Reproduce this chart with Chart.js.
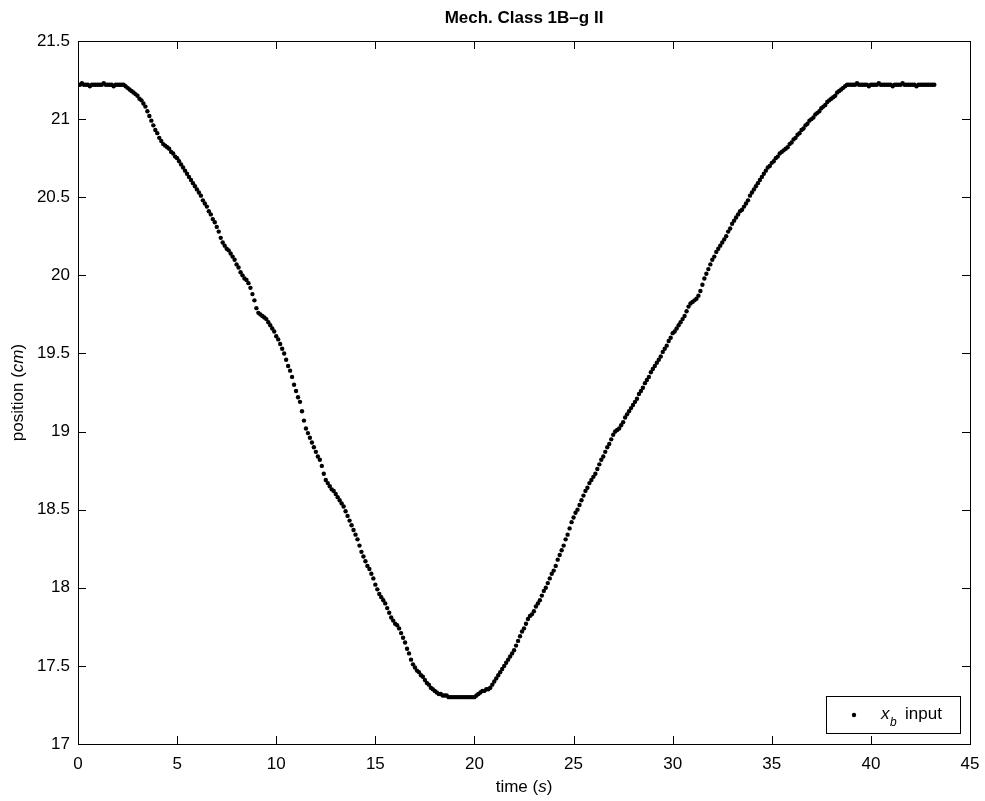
<!DOCTYPE html>
<html>
<head>
<meta charset="utf-8">
<script src="https://cdn.jsdelivr.net/npm/chart.js@4.4.1/dist/chart.umd.min.js"></script>
<style>
  body { margin: 0; background: #fff; }
</style>
</head>
<body>
<canvas id="myChart" width="985" height="801"></canvas>
<script>
const chartTitle = 'Mech. Class 1B\u2013g II';
const xTicks = [0, 5, 10, 15, 20, 25, 30, 35, 40, 45];
const yTicks = [17, 17.5, 18, 18.5, 19, 19.5, 20, 20.5, 21, 21.5];

// sample times (s)
const times = [
  0.0,0.1,0.2,0.3,0.4,0.5,0.6,0.7,0.8,0.9,
  1.0,1.1,1.2,1.3,1.4,1.5,1.6,1.7,1.8,1.9,
  2.0,2.1,2.2,2.3,2.4,2.5,2.6,2.7,2.8,2.9,
  3.0,3.1,3.2,3.3,3.4,3.5,3.6,3.7,3.8,3.9,
  4.0,4.1,4.2,4.3,4.4,4.5,4.6,4.7,4.8,4.9,
  5.0,5.1,5.2,5.3,5.4,5.5,5.6,5.7,5.8,5.9,
  6.0,6.1,6.2,6.3,6.4,6.5,6.6,6.7,6.8,6.9,
  7.0,7.1,7.2,7.3,7.4,7.5,7.6,7.7,7.8,7.9,
  8.0,8.1,8.2,8.3,8.4,8.5,8.6,8.7,8.8,8.9,
  9.0,9.1,9.2,9.3,9.4,9.5,9.6,9.7,9.8,9.9,
  10.0,10.1,10.2,10.3,10.4,10.5,10.6,10.7,10.8,10.9,
  11.0,11.1,11.2,11.3,11.4,11.5,11.6,11.7,11.8,11.9,
  12.0,12.1,12.2,12.3,12.4,12.5,12.6,12.7,12.8,12.9,
  13.0,13.1,13.2,13.3,13.4,13.5,13.6,13.7,13.8,13.9,
  14.0,14.1,14.2,14.3,14.4,14.5,14.6,14.7,14.8,14.9,
  15.0,15.1,15.2,15.3,15.4,15.5,15.6,15.7,15.8,15.9,
  16.0,16.1,16.2,16.3,16.4,16.5,16.6,16.7,16.8,16.9,
  17.0,17.1,17.2,17.3,17.4,17.5,17.6,17.7,17.8,17.9,
  18.0,18.1,18.2,18.3,18.4,18.5,18.6,18.7,18.8,18.9,
  19.0,19.1,19.2,19.3,19.4,19.5,19.6,19.7,19.8,19.9,
  20.0,20.1,20.2,20.3,20.4,20.5,20.6,20.7,20.8,20.9,
  21.0,21.1,21.2,21.3,21.4,21.5,21.6,21.7,21.8,21.9,
  22.0,22.1,22.2,22.3,22.4,22.5,22.6,22.7,22.8,22.9,
  23.0,23.1,23.2,23.3,23.4,23.5,23.6,23.7,23.8,23.9,
  24.0,24.1,24.2,24.3,24.4,24.5,24.6,24.7,24.8,24.9,
  25.0,25.1,25.2,25.3,25.4,25.5,25.6,25.7,25.8,25.9,
  26.0,26.1,26.2,26.3,26.4,26.5,26.6,26.7,26.8,26.9,
  27.0,27.1,27.2,27.3,27.4,27.5,27.6,27.7,27.8,27.9,
  28.0,28.1,28.2,28.3,28.4,28.5,28.6,28.7,28.8,28.9,
  29.0,29.1,29.2,29.3,29.4,29.5,29.6,29.7,29.8,29.9,
  30.0,30.1,30.2,30.3,30.4,30.5,30.6,30.7,30.8,30.9,
  31.0,31.1,31.2,31.3,31.4,31.5,31.6,31.7,31.8,31.9,
  32.0,32.1,32.2,32.3,32.4,32.5,32.6,32.7,32.8,32.9,
  33.0,33.1,33.2,33.3,33.4,33.5,33.6,33.7,33.8,33.9,
  34.0,34.1,34.2,34.3,34.4,34.5,34.6,34.7,34.8,34.9,
  35.0,35.1,35.2,35.3,35.4,35.5,35.6,35.7,35.8,35.9,
  36.0,36.1,36.2,36.3,36.4,36.5,36.6,36.7,36.8,36.9,
  37.0,37.1,37.2,37.3,37.4,37.5,37.6,37.7,37.8,37.9,
  38.0,38.1,38.2,38.3,38.4,38.5,38.6,38.7,38.8,38.9,
  39.0,39.1,39.2,39.3,39.4,39.5,39.6,39.7,39.8,39.9,
  40.0,40.1,40.2,40.3,40.4,40.5,40.6,40.7,40.8,40.9,
  41.0,41.1,41.2,41.3,41.4,41.5,41.6,41.7,41.8,41.9,
  42.0,42.1,42.2,42.3,42.4,42.5,42.6,42.7,42.8,42.9,
  43.0,43.1,43.2
];

// x_b input, position (cm)
const xbInput = [
  21.22,21.22,21.23,21.22,21.22,21.22,21.21,21.22,21.22,21.22,
  21.22,21.22,21.22,21.23,21.22,21.22,21.22,21.22,21.21,21.22,
  21.22,21.22,21.22,21.22,21.21,21.20,21.19,21.18,21.17,21.16,
  21.15,21.13,21.12,21.10,21.08,21.05,21.02,20.99,20.96,20.93,
  20.91,20.88,20.86,20.84,20.83,20.82,20.81,20.79,20.78,20.76,
  20.75,20.73,20.71,20.69,20.67,20.65,20.63,20.61,20.59,20.57,
  20.55,20.53,20.51,20.48,20.46,20.44,20.41,20.39,20.36,20.34,
  20.31,20.28,20.24,20.21,20.19,20.17,20.16,20.14,20.12,20.10,
  20.07,20.05,20.02,20.00,19.98,19.97,19.95,19.92,19.88,19.84,
  19.79,19.76,19.75,19.74,19.73,19.72,19.70,19.68,19.66,19.64,
  19.61,19.59,19.56,19.53,19.50,19.46,19.42,19.39,19.35,19.30,
  19.26,19.22,19.19,19.13,19.07,19.02,18.99,18.96,18.93,18.90,
  18.87,18.84,18.82,18.78,18.73,18.69,18.67,18.65,18.63,18.62,
  18.60,18.58,18.56,18.54,18.52,18.49,18.46,18.43,18.40,18.37,
  18.34,18.31,18.27,18.23,18.20,18.17,18.14,18.12,18.09,18.06,
  18.02,17.99,17.96,17.94,17.92,17.90,17.87,17.84,17.81,17.79,
  17.77,17.76,17.74,17.71,17.68,17.65,17.61,17.58,17.54,17.51,
  17.49,17.47,17.46,17.44,17.43,17.41,17.39,17.38,17.36,17.35,
  17.34,17.33,17.32,17.32,17.31,17.31,17.31,17.30,17.30,17.30,
  17.30,17.30,17.30,17.30,17.30,17.30,17.30,17.30,17.30,17.30,
  17.30,17.31,17.32,17.33,17.34,17.34,17.35,17.35,17.36,17.38,
  17.40,17.42,17.44,17.46,17.48,17.50,17.52,17.54,17.56,17.58,
  17.60,17.63,17.66,17.69,17.72,17.74,17.77,17.80,17.82,17.83,
  17.85,17.88,17.90,17.92,17.95,17.98,18.00,18.03,18.06,18.09,
  18.11,18.14,18.18,18.21,18.24,18.27,18.31,18.34,18.38,18.42,
  18.45,18.48,18.50,18.53,18.56,18.59,18.62,18.64,18.67,18.69,
  18.71,18.73,18.76,18.79,18.82,18.84,18.87,18.90,18.92,18.95,
  18.98,19.00,19.01,19.02,19.04,19.06,19.09,19.11,19.13,19.15,
  19.17,19.19,19.21,19.24,19.26,19.28,19.31,19.33,19.35,19.38,
  19.40,19.42,19.44,19.46,19.48,19.51,19.53,19.55,19.58,19.60,
  19.63,19.64,19.66,19.68,19.70,19.72,19.74,19.77,19.80,19.82,
  19.83,19.84,19.85,19.87,19.90,19.94,19.98,20.01,20.04,20.07,
  20.10,20.12,20.15,20.17,20.19,20.21,20.23,20.25,20.28,20.30,
  20.33,20.35,20.37,20.39,20.41,20.42,20.44,20.46,20.48,20.51,
  20.53,20.55,20.57,20.59,20.61,20.63,20.65,20.67,20.69,20.70,
  20.72,20.73,20.75,20.76,20.78,20.79,20.80,20.81,20.82,20.84,
  20.85,20.87,20.88,20.90,20.91,20.93,20.94,20.96,20.97,20.99,
  21.00,21.01,21.03,21.04,21.05,21.07,21.08,21.09,21.11,21.12,
  21.13,21.14,21.15,21.17,21.18,21.19,21.20,21.21,21.22,21.22,
  21.22,21.22,21.22,21.23,21.22,21.22,21.22,21.22,21.22,21.21,
  21.22,21.22,21.22,21.22,21.23,21.22,21.22,21.22,21.22,21.22,
  21.22,21.21,21.22,21.22,21.22,21.22,21.23,21.22,21.22,21.22,
  21.22,21.22,21.22,21.21,21.22,21.22,21.22,21.22,21.22,21.22,
  21.22,21.22,21.22
];

const FONT = '"Liberation Sans", Arial, Helvetica, sans-serif';
const FS = 17;

// draw text pieces, some italic, left to right, centred on cx
function drawPieces(ctx, pieces, cx, cy) {
    let total = 0;
    pieces.forEach(p => {
        ctx.font = (p[1] ? 'italic ' : '') + FS + 'px ' + FONT;
        total += ctx.measureText(p[0]).width;
    });
    let x = cx - total / 2;
    ctx.textAlign = 'left';
    pieces.forEach(p => {
        ctx.font = (p[1] ? 'italic ' : '') + FS + 'px ' + FONT;
        ctx.fillText(p[0], x, cy);
        x += ctx.measureText(p[0]).width;
    });
}

const matlabFrame = {
    id: 'matlabFrame',
    afterDraw(chart) {
        const { ctx, chartArea: a, scales } = chart;
        const sx = scales.x, sy = scales.y;
        ctx.save();
        ctx.strokeStyle = '#000';
        ctx.fillStyle = '#000';
        ctx.lineWidth = 1;
        ctx.strokeRect(a.left + 0.5, a.top + 0.5, a.right - a.left, a.bottom - a.top);

        // inward ticks on all four sides
        const tl = 8;
        ctx.beginPath();
        sx.ticks.forEach(t => {
            const px = Math.round(sx.getPixelForValue(t.value)) + 0.5;
            ctx.moveTo(px, a.bottom); ctx.lineTo(px, a.bottom - tl);
            ctx.moveTo(px, a.top); ctx.lineTo(px, a.top + tl);
        });
        sy.ticks.forEach(t => {
            const py = Math.round(sy.getPixelForValue(t.value)) + 0.5;
            ctx.moveTo(a.left, py); ctx.lineTo(a.left + tl, py);
            ctx.moveTo(a.right, py); ctx.lineTo(a.right - tl, py);
        });
        ctx.stroke();

        // title
        ctx.textBaseline = 'middle';
        ctx.textAlign = 'center';
        ctx.font = 'bold ' + FS + 'px ' + FONT;
        ctx.fillText(chartTitle, (a.left + a.right) / 2, 18);

        // axis titles
        drawPieces(ctx, [['time (', false], ['s', true], [')', false]], (a.left + a.right) / 2, 787);
        ctx.save();
        ctx.translate(18, (a.top + a.bottom) / 2);
        ctx.rotate(-Math.PI / 2);
        drawPieces(ctx, [['position (', false], ['cm', true], [')', false]], 0, 0);
        ctx.restore();

        // legend box
        const lw = 134, lh = 37;
        const lx = a.right - 10 - lw, ly = a.bottom - 11 - lh;
        ctx.fillStyle = '#fff';
        ctx.fillRect(lx, ly, lw, lh);
        ctx.strokeRect(lx + 0.5, ly + 0.5, lw, lh);
        ctx.fillStyle = '#000';
        ctx.beginPath();
        ctx.arc(lx + 28, ly + 19, 2.2, 0, Math.PI * 2);
        ctx.fill();
        ctx.textAlign = 'left';
        ctx.textBaseline = 'alphabetic';
        ctx.font = 'italic ' + FS + 'px ' + FONT;
        ctx.fillText('x', lx + 55, ly + 23);
        ctx.font = 'italic 12px ' + FONT;
        ctx.fillText('b', lx + 64, ly + 30);
        ctx.font = FS + 'px ' + FONT;
        ctx.fillText('input', lx + 79, ly + 23);
        ctx.restore();
    }
};

const ctx = document.getElementById('myChart').getContext('2d');
new Chart(ctx, {
    type: 'scatter',
    data: {
        datasets: [{
            label: 'x_b input',
            data: times.map((t, i) => ({ x: t, y: xbInput[i] })),
            backgroundColor: '#000',
            borderWidth: 0,
            pointRadius: 2.2,
            pointHoverRadius: 2.2
        }]
    },
    options: {
        responsive: false,
        animation: false,
        layout: { padding: { top: 41, right: 15, left: 0, bottom: 0 } },
        plugins: {
            legend: { display: false },
            title: { display: false },
            tooltip: { enabled: false }
        },
        scales: {
            x: {
                type: 'linear',
                min: 0,
                max: 45,
                afterFit: s => { s.height = 57; s.paddingLeft = 0; s.paddingRight = 0; },
                afterBuildTicks: s => { s.ticks = xTicks.map(v => ({ value: v })); },
                grid: { display: false, drawTicks: false },
                border: { display: false },
                ticks: { color: '#000', padding: 10, font: { family: FONT, size: FS } }
            },
            y: {
                type: 'linear',
                min: 17,
                max: 21.5,
                afterFit: s => { s.width = 78; s.paddingTop = 0; s.paddingBottom = 0; },
                afterBuildTicks: s => { s.ticks = yTicks.map(v => ({ value: v })); },
                grid: { display: false, drawTicks: false },
                border: { display: false },
                ticks: {
                    color: '#000',
                    padding: 8,
                    font: { family: FONT, size: FS },
                    callback: v => String(v)
                }
            }
        }
    },
    plugins: [matlabFrame]
});
</script>
</body>
</html>
